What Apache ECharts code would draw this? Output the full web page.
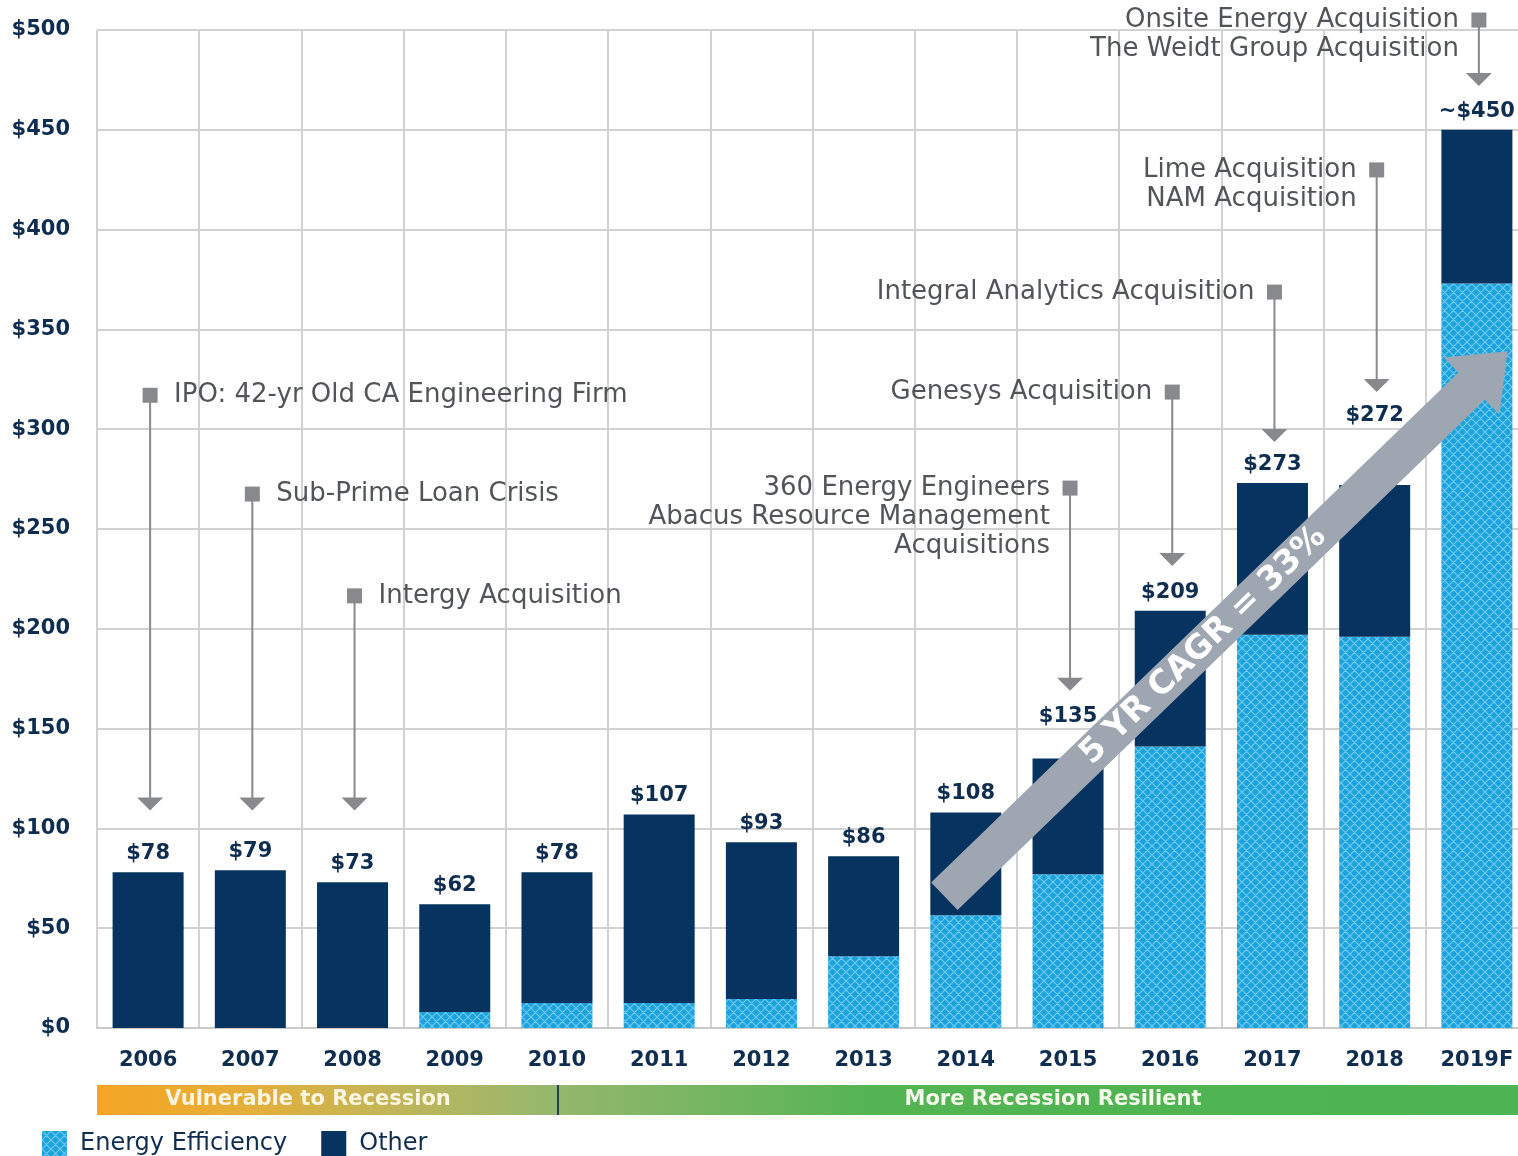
<!DOCTYPE html>
<html><head><meta charset="utf-8">
<script src="https://cdn.jsdelivr.net/npm/echarts@6/dist/echarts.min.js"></script>
<style>html,body{margin:0;padding:0;background:#fff}#c{width:1518px;height:1156px}</style>
</head><body><div id="c"></div>
<script>
// ---------- data ----------
const years = ['2006','2007','2008','2009','2010','2011','2012','2013','2014','2015','2016','2017','2018','2019F'];
const energyEfficiency = [0, 0, 0, 8, 12.5, 12.5, 14.5, 36, 56.5, 77, 141, 197, 196, 373];
const other = [78, 79, 73, 54, 65.5, 94.5, 78.5, 50, 51.5, 58, 68, 76, 76, 77];
const totalLabels = ['$78','$79','$73','$62','$78','$107','$93','$86','$108','$135','$209','$273','$272','~$450'];
const yMin = 0, yMax = 500, yStep = 50;

const annoYears = ['2006','2007','2008','2015','2016','2017','2018','2019F'];
const annoFrom = [317, 267.5, 216.5, 270.5, 318.6, 368.7, 429.9, 505];
const annoTo = [109, 109, 109, 169, 231.5, 293.6, 318.6, 472];
const annoText = [
  'IPO: 42-yr Old CA Engineering Firm',
  'Sub-Prime Loan Crisis',
  'Intergy Acquisition',
  '360 Energy Engineers\nAbacus Resource Management\nAcquisitions',
  'Genesys Acquisition',
  'Integral Analytics Acquisition',
  'Lime Acquisition\nNAM Acquisition',
  'Onsite Energy Acquisition\nThe Weidt Group Acquisition'
];
const cagrText = '5 YR CAGR = 33%';
const cagrTail = ['2014', 66];
const cagrTip = ['2019F', 339];
const bandTexts = ['Vulnerable to Recession', 'More Recession Resilient'];

// ---------- styles ----------
const NAVY = '#06335f';
const LABEL = '#0e2d50';
const GRAY = '#87898c';
const FONT = '"DejaVu Sans", "Open Sans", sans-serif';

function makeHatch() {
  const s = 9;
  const c = document.createElement('canvas');
  c.width = c.height = s;
  const g = c.getContext('2d');
  g.fillStyle = '#1ca3de';
  g.fillRect(0, 0, s, s);
  g.strokeStyle = '#6fc9ef';
  g.lineWidth = 1.2;
  g.beginPath();
  for (let k = -1; k <= 1; k++) {
    g.moveTo(k * s, 0); g.lineTo(k * s + s, s);
    g.moveTo(k * s + s, 0); g.lineTo(k * s, s);
  }
  g.stroke();
  return c;
}
const hatch = { image: makeHatch(), repeat: 'repeat' };

const chart = echarts.init(document.getElementById('c'), null, { renderer: 'canvas' });

function renderAnno(params, api) {
  const i = params.dataIndex;
  const cat = years.indexOf(annoYears[i]);
  const top = api.coord([cat, annoFrom[i]]);
  const tip = api.coord([cat, annoTo[i]]);
  const x = top[0] + 2;
  const right = i < 3;
  const lh = 29;
  return {
    type: 'group',
    children: [
      { type: 'line', shape: { x1: x, y1: top[1], x2: x, y2: tip[1] - 12 }, style: { stroke: GRAY, lineWidth: 2 } },
      { type: 'polygon', shape: { points: [[x - 13, tip[1] - 13], [x + 13, tip[1] - 13], [x, tip[1]]] }, style: { fill: GRAY } },
      { type: 'rect', shape: { x: x - 7.5, y: top[1] - 7.5, width: 15, height: 15 }, style: { fill: GRAY } },
      { type: 'text', x: right ? x + 24 : x - 20, y: top[1] - lh / 2,
        style: { text: annoText[i], fill: '#515459', font: '26px ' + FONT,
                 align: right ? 'left' : 'right', verticalAlign: 'top', lineHeight: lh } }
    ]
  };
}

function renderCagr(params, api) {
  const band = api.size([1, 0])[0];
  const t = api.coord([years.indexOf(cagrTail[0]), cagrTail[1]]);
  const p = api.coord([years.indexOf(cagrTip[0]), cagrTip[1]]);
  t[0] -= 0.21 * band;
  p[0] += 0.30 * band;
  const dx = p[0] - t[0], dy = p[1] - t[1];
  const len = Math.hypot(dx, dy);
  const ux = dx / len, uy = dy / len;
  const nx = -uy, ny = ux;
  const w = 19, hw = 40, hl = 50;
  const bx = p[0] - ux * hl, by = p[1] - uy * hl;
  const pts = [
    [t[0] + nx * w, t[1] + ny * w],
    [bx + nx * w, by + ny * w],
    [bx + nx * hw, by + ny * hw],
    [p[0], p[1]],
    [bx - nx * hw, by - ny * hw],
    [bx - nx * w, by - ny * w],
    [t[0] - nx * w, t[1] - ny * w]
  ];
  const ang = Math.atan2(-dy, dx);
  const cx = t[0] + ux * len * 0.46, cy = t[1] + uy * len * 0.46;
  return {
    type: 'group',
    children: [
      { type: 'polygon', shape: { points: pts }, style: { fill: '#9ea6b1' } },
      { type: 'text', x: cx, y: cy, rotation: ang,
        style: { text: cagrText, fill: '#ffffff', font: 'bold 33px ' + FONT, align: 'center', verticalAlign: 'middle' } }
    ]
  };
}

const specialDist = { 9: 31, 12: 59 };

const option = {
  backgroundColor: '#ffffff',
  animation: false,
  grid: { left: 97, width: 1431, top: 30, height: 998, containLabel: false, outerBoundsMode: 'none' },
  legend: {
    data: ['Energy Efficiency', 'Other'],
    left: 42, top: 1131, padding: 0,
    itemWidth: 25, itemHeight: 25, itemGap: 34, icon: 'rect',
    textStyle: { color: LABEL, fontSize: 24, fontFamily: FONT, padding: [0, 0, 0, 8] }
  },
  xAxis: {
    type: 'category',
    data: years,
    axisTick: { show: false },
    axisLine: { show: true, lineStyle: { color: '#c9c9c9', width: 2 } },
    axisLabel: { color: LABEL, fontSize: 21, fontWeight: 'bold', fontFamily: FONT, margin: 22 },
    splitLine: { show: true, lineStyle: { color: '#d2d2d2', width: 2 } }
  },
  yAxis: {
    type: 'value', min: yMin, max: yMax, interval: yStep,
    axisLine: { show: false }, axisTick: { show: false },
    axisLabel: { formatter: '${value}', color: LABEL, fontSize: 21, fontWeight: 'bold', fontFamily: FONT, margin: 27 },
    splitLine: { show: true, lineStyle: { color: '#d2d2d2', width: 2 } }
  },
  series: [
    {
      name: 'Energy Efficiency', type: 'bar', stack: 'total', barWidth: 71,
      itemStyle: { color: hatch }, z: 2,
      data: energyEfficiency
    },
    {
      name: 'Other', type: 'bar', stack: 'total', barWidth: 71,
      itemStyle: { color: NAVY }, z: 2,
      label: {
        show: true, position: 'top', distance: 8,
        color: LABEL, fontSize: 21, fontWeight: 'bold', fontFamily: FONT,
        formatter: (p) => totalLabels[p.dataIndex]
      },
      data: other.map((v, i) => specialDist[i] ? { value: v, label: { distance: specialDist[i] } } : v)
    },
    {
      name: 'annotations', type: 'custom', z: 4, silent: true, clip: false,
      renderItem: renderAnno,
      data: annoYears.map((y, i) => [years.indexOf(y), annoFrom[i], annoTo[i]])
    },
    {
      name: 'cagr', type: 'custom', z: 5, silent: true, clip: false,
      renderItem: renderCagr,
      data: [[years.indexOf(cagrTail[0]), cagrTail[1]]]
    }
  ],
  graphic: [
    { type: 'rect', x: 97, y: 1085, shape: { width: 1421, height: 30 },
      style: { fill: new echarts.graphic.LinearGradient(0, 0, 1, 0, [
        { offset: 0, color: '#f6a524' },
        { offset: 0.1, color: '#e6ae37' },
        { offset: 0.2, color: '#c4b558' },
        { offset: 0.32, color: '#95b76e' },
        { offset: 0.55, color: '#53b453' },
        { offset: 1, color: '#4cb452' }
      ]) } },
    { type: 'rect', x: 557, y: 1085, shape: { width: 2, height: 30 }, style: { fill: '#22404e' } },
    { type: 'text', x: 308, y: 1100, style: { text: bandTexts[0], fill: '#fbf5e0', font: 'bold 21px ' + FONT, align: 'center', verticalAlign: 'middle' } },
    { type: 'text', x: 1053, y: 1100, style: { text: bandTexts[1], fill: '#f3f8e8', font: 'bold 21px ' + FONT, align: 'center', verticalAlign: 'middle' } }
  ]
};
chart.setOption(option);
</script>
</body></html>
